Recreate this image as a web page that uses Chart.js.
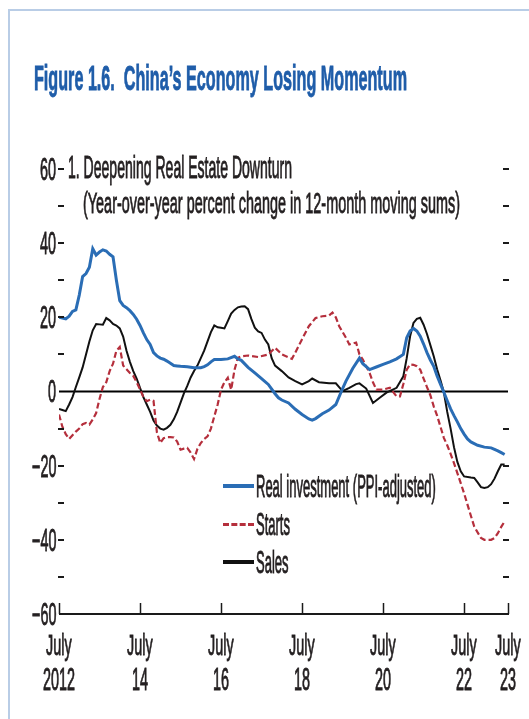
<!DOCTYPE html>
<html>
<head>
<meta charset="utf-8">
<script src="https://cdn.jsdelivr.net/npm/chart.js@4.4.0/dist/chart.umd.min.js"></script>
<style>
  html, body { margin: 0; padding: 0; background: #ffffff; }
  #wrap { position: relative; width: 529px; height: 719px; overflow: hidden; background: #fff; }
  #frame { position: absolute; left: 8px; top: 9px; right: -5px; bottom: -5px;
           border-left: 2px solid #b9cde6; border-top: 2px solid #b9cde6; }
  canvas { position: absolute; left: 0; top: 0; }
  .t { position: absolute; white-space: pre; line-height: 20px; font-size: 20px;
       font-family: "Liberation Sans", Arial, sans-serif; transform-origin: 0 0; color: #231f20; }
  .legline { position: absolute; height: 0; }
</style>
</head>
<body>
<div id="wrap">
  <div id="frame"></div>
  <canvas id="c" width="529" height="719"></canvas>
</div>
<script>
// ---------- DATA (months since July 2012) ----------
const chartTitle = "Figure 1.6.  China\u2019s Economy Losing Momentum";
const panelTitle = "1. Deepening Real Estate Downturn";
const panelSubtitle = "(Year-over-year percent change in 12-month moving sums)";

const seriesNames = ["Real investment (PPI-adjusted)", "Starts", "Sales"];

const investMonths = [0,1,2,3,4,5,6,7,8,9,10,11,12,13,14,15,16,17,18,19,20,21,22,23,24,25,26,27,28,29,30,31,32,33,34,35,36,38,40,42,43,44,45,46,48,50,52,53,54,56,58,60,62,64,65,66,68,70,72,74,75,76,78,80,82,84,85,87,89,90,92,94,96,98,100,102,103,104,105,106,107,108,109,110,111,112,113,114,115,116,117,118,119,120,121,122,124,126,128,129,130,131,132];
const investValues = [20.0,19.8,19.6,20.3,21.6,22.0,26.0,31.0,31.8,33.5,38.5,36.8,37.6,38.2,37.9,37.0,36.3,30.0,24.5,23.2,22.6,21.8,20.8,19.5,17.8,15.8,14.0,12.7,10.5,9.6,9.0,8.7,8.2,7.6,7.0,6.9,6.8,6.7,6.4,6.4,6.7,7.2,8.0,8.6,8.6,8.8,9.5,8.8,8.4,6.5,5.0,3.5,1.9,-0.6,-1.7,-2.3,-3.1,-4.8,-6.2,-7.4,-7.7,-7.3,-6.0,-5.0,-3.5,0.8,2.8,6.2,9.0,7.5,5.9,6.6,7.3,8.0,8.8,10.0,14.5,16.3,17.0,16.3,14.9,12.8,10.5,8.5,6.8,4.2,2.0,-0.2,-2.5,-4.7,-6.5,-8.2,-10.0,-11.5,-12.8,-13.6,-14.5,-15.0,-15.2,-15.6,-16.0,-16.5,-17.0];

const startsMonths = [0,1,2,3,4,5,6,7,8,9,10,11,12,13,14,15,16,17,18,19,20,21,22,23,24,25,26,27,28,29,30,31,32,33,34,35,36,37,38,39,40,41,42,43,44,45,46,47,48,49,50,51,52,53,54,56,59,62,64,66,68,69,70,72,74,76,78,80,81,82,83,85,86,88,89,90,92,93,94,96,98,100,101,102,103,104,105,106,107,108,109,110,111,112,113,114,115,116,117,118,119,120,121,122,123,124,125,126,128,129,130,131,132];
const startsValues = [-6.2,-9.5,-11.5,-12.8,-11.8,-10.8,-10.0,-8.8,-8.5,-8.9,-7.5,-5.8,-2.0,1.2,2.5,5.5,7.5,11.0,12.0,7.0,6.0,5.0,4.2,2.5,0.6,-1.5,-2.6,-2.2,-2.5,-11.0,-13.9,-12.6,-12.3,-12.3,-12.4,-13.5,-15.7,-15.4,-15.2,-16.5,-18.2,-15.5,-13.9,-12.8,-12.1,-10.0,-6.7,-3.5,0.5,2.5,3.7,0.5,5.9,9.1,9.5,9.7,9.3,10.0,11.8,10.0,9.2,8.8,10.5,14.1,17.6,19.8,20.3,20.5,21.3,20.0,17.6,14.5,12.7,13.2,10.0,8.6,5.0,2.5,0.5,0.5,1.0,-1.3,-1.3,2.0,5.9,7.3,7.2,6.8,5.9,3.5,1.2,-1.0,-4.0,-6.5,-9.5,-12.5,-14.5,-16.8,-19.3,-22.0,-24.7,-27.5,-30.5,-33.5,-36.4,-38.0,-39.5,-40.0,-40.0,-39.5,-38.2,-36.5,-35.0];

const salesMonths = [0,1,2,3,4,5,6,7,8,9,10,11,12,13,14,15,16,17,18,19,20,21,22,23,24,25,26,27,28,29,30,31,32,33,34,35,36,37,38,39,40,41,42,43,44,45,46,47,48,49,50,51,52,53,54,55,56,57,58,59,60,61,62,63,64,66,68,70,72,74,75,77,80,82,84,86,88,89,91,93,95,97,100,102,103,104,105,106,107,108,109,110,111,112,113,114,115,116,117,118,119,120,122,123,124,125,126,127,128,129,130,131,132];
const salesValues = [-4.7,-5.0,-5.3,-3.5,-1.5,1.2,3.8,6.5,10.0,13.5,16.5,18.2,18.1,18.0,19.8,19.2,18.2,17.8,17.0,14.8,11.0,8.0,5.5,3.5,1.0,-1.5,-3.5,-5.5,-7.8,-9.2,-10.0,-10.3,-9.8,-9.0,-7.5,-5.5,-3.0,-0.5,1.5,3.8,5.5,7.0,9.0,11.0,13.5,16.0,17.8,17.3,17.2,17.0,19.0,21.0,22.0,22.7,22.9,23.0,22.2,19.5,17.2,16.2,15.8,14.0,12.7,9.0,7.0,5.5,3.8,2.8,1.9,2.8,3.5,2.5,2.2,2.2,0.1,1.0,2.0,2.2,0.8,-3.1,-1.7,-0.3,1.0,4.1,9.0,14.9,18.5,19.6,19.9,18.0,15.5,12.5,9.5,6.0,3.0,-0.2,-5.5,-10.0,-15.0,-19.0,-21.5,-22.9,-23.2,-23.3,-24.5,-25.8,-26.0,-25.8,-25.0,-23.5,-21.5,-19.7,-19.7];

const xTickMonths = [0, 24, 48, 72, 96, 120, 133];
const xTickLabels = [["July","2012"],["July","14"],["July","16"],["July","18"],["July","20"],["July","22"],["July","23"]];
const yLabelValues = [60, 40, 20, 0, -20, -40, -60];
const yMarkValues = [60, 50, 40, 30, 20, 10, -10, -20, -30, -40, -50];

const colors = { invest: "#2a6db5", starts: "#b52f3c", sales: "#111111", title: "#1f5da9", text: "#231f20" };

function pts(ms, vs) { return ms.map((m, i) => ({ x: m, y: vs[i] })); }

// ---------- axes plugin (uses the chart's own scales) ----------
const axesPlugin = {
  id: "axesPlugin",
  beforeDatasetsDraw(chart) {
    const { ctx, chartArea: a, scales: { y } } = chart;
    ctx.save();
    ctx.strokeStyle = "#000";
    ctx.lineWidth = 2;
    ctx.beginPath();
    ctx.moveTo(a.left, y.getPixelForValue(0));
    ctx.lineTo(a.right, y.getPixelForValue(0));
    ctx.stroke();
    ctx.restore();
  },
  afterDatasetsDraw(chart) {
    const { ctx, chartArea: a, scales: { x, y } } = chart;
    ctx.save();
    ctx.strokeStyle = "#1a1a1a";
    ctx.lineWidth = 2;
    yMarkValues.forEach(v => {
      const py = Math.round(y.getPixelForValue(v));
      ctx.beginPath(); ctx.moveTo(a.left - 1, py); ctx.lineTo(a.left + 5, py); ctx.stroke();
      ctx.beginPath(); ctx.moveTo(a.right - 5, py); ctx.lineTo(a.right + 1, py); ctx.stroke();
    });
    const by = y.getPixelForValue(-60);
    ctx.lineWidth = 2;
    ctx.beginPath(); ctx.moveTo(a.left, by); ctx.lineTo(a.right + 1, by); ctx.stroke();
    ctx.lineWidth = 1.5;
    xTickMonths.forEach(m => {
      const px = Math.round(x.getPixelForValue(m)) + 0.5;
      ctx.beginPath(); ctx.moveTo(px, by); ctx.lineTo(px, by - 11); ctx.stroke();
    });
    ctx.restore();
  }
};

const chart = new Chart(document.getElementById("c"), {
  type: "line",
  data: {
    datasets: [
      { label: seriesNames[0], data: pts(investMonths, investValues), borderColor: colors.invest, borderWidth: 3, pointRadius: 0, tension: 0 },
      { label: seriesNames[1], data: pts(startsMonths, startsValues), borderColor: colors.starts, borderWidth: 2.2, borderDash: [6, 3], pointRadius: 0, tension: 0 },
      { label: seriesNames[2], data: pts(salesMonths, salesValues), borderColor: colors.sales, borderWidth: 2, pointRadius: 0, tension: 0 }
    ]
  },
  options: {
    responsive: false,
    animation: false,
    layout: { padding: { left: 59, right: 21, top: 169, bottom: 105 } },
    plugins: { legend: { display: false }, tooltip: { enabled: false } },
    scales: {
      x: { type: "linear", min: 0, max: 133, display: false },
      y: { type: "linear", min: -60, max: 60, display: false }
    }
  },
  plugins: [axesPlugin]
});

// ---------- real-text overlays ----------
const wrap = document.getElementById("wrap");
const mctx = document.createElement("canvas").getContext("2d");
function addText(str, o) {
  const fs = 20;
  const font = (o.bold ? "bold " : "") + fs + 'px "Liberation Sans", Arial, sans-serif';
  mctx.font = font;
  const w = mctx.measureText(str).width;
  const sx = o.width ? o.width / w : o.sx;
  const sy = o.cap / (0.716 * fs);
  const el = document.createElement("span");
  el.className = "t";
  el.textContent = str;
  if (o.bold) el.style.fontWeight = "bold";
  el.style.color = o.color || colors.text;
  el.style.webkitTextStroke = (o.stroke || 0.6) + "px " + (o.color || colors.text);
  let left = o.x;
  if (o.align === "center") left = o.x - w * sx / 2;
  if (o.align === "right") left = o.x - w * sx;
  el.style.left = left + "px";
  el.style.top = (o.base - 0.8465 * fs * sy) + "px";
  el.style.transform = "scale(" + sx + "," + sy + ")";
  wrap.appendChild(el);
}

addText(chartTitle, { x: 34, base: 89.5, cap: 25, width: 373, bold: true, color: colors.title, stroke: 0.5 });
addText(panelTitle, { x: 68, base: 178, cap: 22, width: 224 });
addText(panelSubtitle, { x: 83, base: 213, cap: 21, width: 377 });

const xs = chart.scales.x, ys = chart.scales.y;
yLabelValues.forEach(v => {
  const py = ys.getPixelForValue(v);
  const s = v < 0 ? "\u2212" + Math.abs(v) : String(v);
  addText(s, { x: 56.5, base: py + 11, cap: 22, sx: 0.72, align: "right" });
});
xTickMonths.forEach((m, i) => {
  const px = xs.getPixelForValue(m);
  addText(xTickLabels[i][0], { x: px, base: 655, cap: 21, sx: 0.72, align: "center" });
  addText(xTickLabels[i][1], { x: px, base: 690, cap: 22, sx: 0.72, align: "center" });
});

// legend
const legendItems = [
  { name: seriesNames[0], color: colors.invest, dash: false, y: 486, w: 4 },
  { name: seriesNames[1], color: colors.starts, dash: true, y: 524, w: 3 },
  { name: seriesNames[2], color: colors.sales, dash: false, y: 562, w: 4 }
];
legendItems.forEach(it => {
  const ln = document.createElement("div");
  ln.className = "legline";
  ln.style.left = "223px";
  ln.style.width = "31px";
  ln.style.top = (it.y - it.w / 2) + "px";
  ln.style.borderTop = it.w + "px " + (it.dash ? "dashed " : "solid ") + it.color;
  wrap.appendChild(ln);
  addText(it.name, { x: 256, base: it.y + 11, cap: 22, sx: 0.65 });
});
</script>
</body>
</html>
